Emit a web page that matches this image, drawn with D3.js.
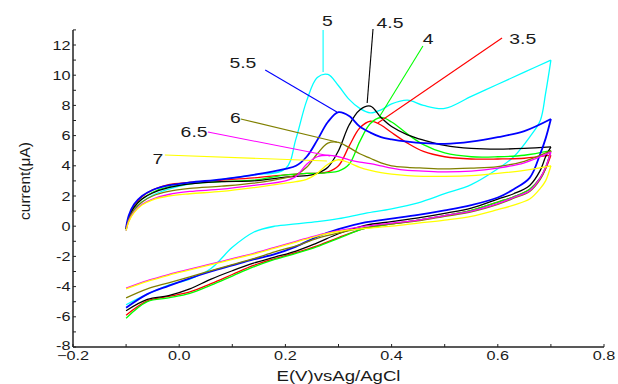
<!DOCTYPE html>
<html><head><meta charset="utf-8">
<script src="https://cdn.jsdelivr.net/npm/d3@7"></script>
<style>body{margin:0;background:#fff}svg{display:block}text{font-family:"Liberation Sans",Arial,sans-serif;fill:#1a1a1a}</style>
</head><body><div id="chart"></div>
<script>
// Potential grid (V vs Ag/AgCl)
const Efwd = [-0.1,-0.095,-0.085,-0.07,-0.05,-0.02,0.02,0.08,0.14,0.2,0.22,0.24,0.26,0.28,0.3,0.32,0.34,0.36,0.38,0.4,0.43,0.46,0.5,0.55,0.6,0.65,0.7];
const Erev = [0.69,0.68,0.66,0.63,0.6,0.55,0.5,0.45,0.4,0.35,0.3,0.26,0.22,0.18,0.14,0.1,0.06,0.02,-0.02,-0.06,-0.1];

const seriesNames = ["5","3.5","4","4.5","5.5","6","6.5","7"];
const seriesColors = ["#00ffff","#ff0000","#00ff00","#000000","#0000ff","#808000","#ff00ff","#ffff00"];

// current (uA), forward (anodic) sweep
const fwd5   = [-0.3,0.4,1.05,1.6,2.05,2.45,2.8,3.1,3.4,3.8,5.8,8.3,9.85,10.05,9.3,8.4,7.8,7.5,7.7,8.1,8.35,8.0,7.8,8.6,9.4,10.2,11.0];
const fwd35  = [-0.2,0.6,1.35,1.95,2.4,2.75,2.9,3.05,3.2,3.4,3.45,3.5,3.5,3.6,4.0,5.3,6.5,6.95,6.7,6.2,5.5,4.95,4.6,4.45,4.45,4.5,4.7];
const fwd4   = [-0.2,0.55,1.25,1.8,2.25,2.6,2.8,2.95,3.05,3.4,3.45,3.5,3.5,3.55,3.65,4.1,5.6,6.8,7.2,6.9,6.1,5.4,4.85,4.6,4.6,4.7,5.0];
const fwd45  = [-0.2,0.55,1.25,1.8,2.2,2.55,2.8,2.95,3.0,3.25,3.3,3.35,3.5,3.9,5.0,6.7,7.7,7.95,7.2,6.6,6.05,5.7,5.35,5.15,5.1,5.15,5.25];
const fwd55  = [-0.1,0.7,1.45,2.0,2.4,2.7,2.9,3.1,3.4,3.8,4.0,4.6,5.7,6.9,7.55,7.3,6.6,6.2,5.9,5.75,5.6,5.5,5.45,5.6,5.9,6.3,7.1];
const fwd6   = [-0.2,0.45,1.1,1.6,2.0,2.3,2.5,2.65,2.85,3.2,3.4,3.9,4.8,5.5,5.55,5.2,4.8,4.5,4.2,4.0,3.9,3.85,3.8,3.85,3.95,4.3,5.0];
const fwd65  = [-0.3,0.35,0.95,1.45,1.8,2.1,2.3,2.45,2.7,3.0,3.3,4.1,4.6,4.7,4.6,4.4,4.25,4.15,4.0,3.85,3.7,3.65,3.6,3.65,3.85,4.2,4.9];
const fwd7   = [-0.3,0.3,0.9,1.4,1.75,2.0,2.15,2.3,2.55,2.85,2.95,3.1,3.5,4.1,4.4,4.2,3.9,3.7,3.55,3.45,3.35,3.3,3.3,3.35,3.5,3.7,4.0];

// current (uA), reverse (cathodic) sweep
const rev5   = [8.8,7.0,5.9,4.6,3.8,2.75,2.15,1.55,1.15,0.85,0.5,0.3,0.15,0.0,-0.4,-1.4,-2.8,-3.5,-3.9,-4.5,-5.2];
const rev35  = [3.8,3.2,2.45,1.95,1.6,1.05,0.7,0.4,0.15,-0.15,-0.75,-1.3,-1.75,-2.15,-2.6,-3.2,-3.8,-4.35,-4.65,-4.95,-5.9];
const rev4   = [3.9,3.2,2.45,1.95,1.6,1.05,0.7,0.4,0.15,-0.15,-0.8,-1.35,-1.8,-2.2,-2.7,-3.3,-3.9,-4.45,-4.75,-5.0,-6.1];
const rev45  = [4.6,3.7,2.7,2.15,1.8,1.2,0.85,0.55,0.3,0.05,-0.5,-1.1,-1.65,-2.05,-2.45,-2.95,-3.5,-4.15,-4.6,-4.85,-5.6];
const rev55  = [5.8,4.8,3.2,2.45,1.9,1.4,1.05,0.75,0.5,0.25,-0.2,-0.7,-1.35,-1.85,-2.2,-2.6,-3.0,-3.45,-3.95,-4.5,-5.4];
const rev6   = [3.8,3.1,2.3,1.85,1.45,0.95,0.65,0.35,0.15,-0.1,-0.45,-0.8,-1.3,-1.7,-2.15,-2.55,-2.95,-3.35,-3.75,-4.15,-4.75];
const rev65  = [3.9,3.2,2.35,1.9,1.5,1.0,0.7,0.4,0.2,0.0,-0.3,-0.6,-1.0,-1.4,-1.8,-2.15,-2.5,-2.85,-3.2,-3.6,-4.1];
const rev7   = [3.0,2.5,1.8,1.4,1.1,0.65,0.4,0.2,0.0,-0.15,-0.35,-0.65,-1.05,-1.45,-1.85,-2.2,-2.55,-2.9,-3.25,-3.65,-4.15];

const fwdAll = [fwd5,fwd35,fwd4,fwd45,fwd55,fwd6,fwd65,fwd7];
const revAll = [rev5,rev35,rev4,rev45,rev55,rev6,rev65,rev7];

// axis ticks
const xTickLabels = [-0.2,0.0,0.2,0.4,0.6,0.8];
const yTickLabels = [-8,-6,-4,-2,0,2,4,6,8,10,12];

// pH annotations: label, label anchor (E, I), leader start and end (E, I)
const annLabels = ["5","4.5","4","3.5","5.5","6","6.5","7"];
const annColors = ["#00ffff","#000000","#00ff00","#ff0000","#0000ff","#808000","#ff00ff","#ffff00"];
const annTextE  = [0.279,0.397,0.469,0.647,0.120,0.106,0.028,-0.040];
const annTextI  = [13.26,13.13,12.07,12.07,10.48,6.83,5.91,4.12];
const annFromE  = [0.271,0.365,0.459,0.608,0.162,0.116,0.054,-0.027];
const annFromI  = [12.99,13.06,11.93,12.46,10.34,7.10,6.24,4.72];
const annToE    = [0.271,0.354,0.378,0.374,0.297,0.297,0.284,0.278];
const annToI    = [10.21,8.16,7.30,6.83,7.56,5.58,4.65,4.32];

const W = 618, H = 384;
const svg = d3.select("#chart").append("svg").attr("width",W).attr("height",H);
const x = d3.scaleLinear().domain([-0.2,0.8]).range([73,604]);
const y = d3.scaleLinear().domain([-8,12]).range([347,45]);

function stretchedText(px,py,str,size,anchor,sx){
  const g = svg.append("g").attr("transform",`translate(${px},${py}) scale(${sx},1)`);
  g.append("text").attr("text-anchor",anchor).style("font-size",size+"px").text(str);
  return g;
}

// curves
const line = d3.line().x(d=>x(d[0])).y(d=>y(d[1])).curve(d3.curveCatmullRom.alpha(0.5));
fwdAll.forEach((f,i)=>{
  const r = revAll[i];
  const fpts = Efwd.map((e,k)=>[e,f[k]]);
  const rpts = [[Efwd[Efwd.length-1], f[f.length-1]]].concat(Erev.map((e,k)=>[e,r[k]]));
  const w = seriesNames[i]==="5.5" ? 1.8 : 1.3;
  svg.append("path").attr("d",line(fpts)).attr("fill","none").attr("stroke",seriesColors[i]).attr("stroke-width",w);
  svg.append("path").attr("d",line(rpts)).attr("fill","none").attr("stroke",seriesColors[i]).attr("stroke-width",w);
});

// annotation leaders and labels
annLabels.forEach((t,i)=>{
  svg.append("line").attr("x1",x(annFromE[i])).attr("y1",y(annFromI[i]))
    .attr("x2",x(annToE[i])).attr("y2",y(annToI[i]))
    .attr("stroke",annColors[i]).attr("stroke-width",1.1);
  stretchedText(x(annTextE[i]), y(annTextI[i]), t, 15.5, "middle", 1.25);
});

// axes
const axisColor = "#222";
svg.append("line").attr("x1",x(-0.2)).attr("x2",x(0.8)).attr("y1",y(-8)).attr("y2",y(-8)).attr("stroke",axisColor).attr("stroke-width",1.5);
svg.append("line").attr("x1",x(-0.2)).attr("x2",x(-0.2)).attr("y1",y(-8)).attr("y2",y(13)).attr("stroke",axisColor).attr("stroke-width",1.5);
d3.range(-2,9).map(v=>v/10).forEach(v=>{
  svg.append("line").attr("x1",x(v)).attr("x2",x(v)).attr("y1",y(-8)).attr("y2",y(-8)-3).attr("stroke",axisColor).attr("stroke-width",1);
});
d3.range(-8,14).forEach(v=>{
  svg.append("line").attr("x1",x(-0.2)).attr("x2",x(-0.2)+3).attr("y1",y(v)).attr("y2",y(v)).attr("stroke",axisColor).attr("stroke-width",1);
});
xTickLabels.forEach(v=>{
  stretchedText(x(v), y(-8)+12.5, d3.format(".1f")(v), 12.5, "middle", 1.3);
});
yTickLabels.forEach(v=>{
  stretchedText(x(-0.2)-2.5, y(v)+(v===-8 ? 2.5 : 4.5), String(v), 12.5, "end", 1.3);
});

// axis titles
stretchedText((x(-0.2)+x(0.8))/2, 381, "E(V)vsAg/AgCl", 15.5, "middle", 1.2);
svg.append("text").attr("transform","translate(30,181) rotate(-90)").attr("text-anchor","middle")
  .style("font-size","15.5px").text("current(\u03bcA)");
</script></body></html>
